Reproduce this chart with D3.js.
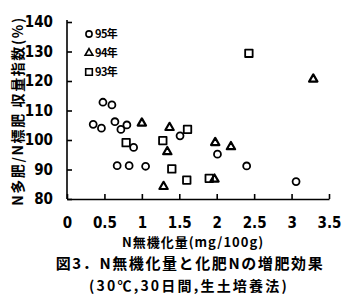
<!DOCTYPE html>
<html>
<head>
<meta charset="utf-8">
<script src="https://cdn.jsdelivr.net/npm/d3@7/dist/d3.min.js"></script>
<style>
  body { margin: 0; background: #fff; }
  svg { display: block; }
  .num { font-family: "Liberation Sans Narrow", "DejaVu Sans Condensed", "Arial Narrow", sans-serif; font-weight: bold; }
  .jp { font-family: "Noto Sans CJK JP", "Noto Sans", sans-serif; font-weight: bold; }
  .axis path, .axis line { stroke: #000; stroke-width: 1.6; }
</style>
</head>
<body>
<div id="chart"></div>
<script>
// 95年 (circles)
var y95x = [0.48, 0.60, 0.35, 0.46, 0.64, 0.72, 0.80, 0.89, 0.67, 0.83, 1.05, 1.51, 2.01, 2.40, 3.06]
var y95y = [112.8, 111.9, 105.3, 104.0, 106.2, 103.6, 105.1, 97.5, 91.3, 91.3, 91.1, 101.4, 95.2, 91.2, 85.9]
// 94年 (triangles)
var y94x = [1.00, 1.37, 1.34, 1.29, 1.98, 2.19, 1.97, 3.29]
var y94y = [105.7, 104.2, 96.0, 84.2, 99.1, 97.7, 86.7, 120.6]
// 93年 (squares)
var y93x = [0.79, 1.28, 1.61, 1.40, 1.60, 1.90, 2.43]
var y93y = [99.1, 99.8, 103.6, 90.2, 86.4, 87.0, 129.4]

var xTicks = [0, 0.5, 1, 1.5, 2, 2.5, 3, 3.5]
var yTicks = [80, 90, 100, 110, 120, 130, 140]
var legendLabels = ["95年", "94年", "93年"]

var W = 358, H = 307

var svg = d3.select("#chart").append("svg")
    .attr("width", W)
    .attr("height", H)

var x = d3.scaleLinear().domain([0, 3.5]).range([67, 329])
var y = d3.scaleLinear().domain([80, 140]).range([199, 22])

var gx = svg.append("g")
    .attr("class", "axis num")
    .attr("transform", "translate(0," + y(80) + ")")
  .call(d3.axisBottom(x).tickValues(xTicks).tickSizeInner(-5).tickSizeOuter(0).tickPadding(18)
    .tickFormat(function(d){ return d == 0 ? "0" : d3.format(".1~f")(d) }))
gx.selectAll("text").attr("font-size", 15).attr("fill", "#000").attr("font-family", null)

var gy = svg.append("g")
    .attr("class", "axis num")
    .attr("transform", "translate(" + x(0) + ",0)")
  .call(d3.axisLeft(y).tickValues(yTicks).tickSizeInner(-5).tickSizeOuter(0).tickPadding(14))
gy.selectAll("text").attr("font-size", 15).attr("fill", "#000").attr("font-family", null)
gy.select(".domain").attr("d", "M0," + y(80) + "V" + (y(140) - 2))

// points
var sym = d3.symbol()

function draw(xs, ys, type, size){
  var pts = xs.map(function(v, i){ return {x: v, y: ys[i]} })
  svg.append("g").selectAll("path")
      .data(pts)
    .enter().append("path")
      .attr("transform", function(d){ return "translate(" + x(d.x) + "," + y(d.y) + ")" })
      .attr("d", sym.type(type).size(size)())
      .attr("fill", "none")
      .attr("stroke", "#000")
      .attr("stroke-width", type == d3.symbolTriangle ? 2.2 : 1.8)
      .attr("stroke-linejoin", "round")
}

draw(y95x, y95y, d3.symbolCircle, 38)
draw(y94x, y94y, d3.symbolTriangle, 30)
draw(y93x, y93y, d3.symbolSquare, 56)

// legend
var legendTypes = [d3.symbolCircle, d3.symbolTriangle, d3.symbolSquare]
var legendSizes = [30, 26, 44]
legendLabels.forEach(function(t, i){
  var ly = 34 + i * 19
  svg.append("path")
    .attr("transform", "translate(89," + ly + ")")
    .attr("d", d3.symbol().type(legendTypes[i]).size(legendSizes[i])())
    .attr("fill", "none")
    .attr("stroke", "#000")
    .attr("stroke-width", 1.6)
  svg.append("text")
    .attr("class", "jp")
    .attr("x", 95)
    .attr("y", ly)
    .attr("dy", "0.35em")
    .attr("font-size", 11)
    .attr("letter-spacing", -0.6)
    .text(t)
})

// titles
svg.append("text")
  .attr("class", "jp")
  .attr("transform", "translate(18,111) rotate(-90)")
  .attr("text-anchor", "middle")
  .attr("dy", "0.35em")
  .attr("font-size", 14)
  .attr("letter-spacing", 1.6)
  .text("N多肥/N標肥 収量指数(%)")

svg.append("text")
  .attr("class", "jp")
  .attr("x", 193)
  .attr("y", 242)
  .attr("dy", "0.35em")
  .attr("text-anchor", "middle")
  .attr("font-size", 13)
  .attr("letter-spacing", 1)
  .text("N無機化量(mg/100g)")

svg.append("text")
  .attr("class", "jp")
  .attr("x", 190)
  .attr("y", 264)
  .attr("dy", "0.35em")
  .attr("text-anchor", "middle")
  .attr("font-size", 15)
  .attr("letter-spacing", 1.6)
  .text("図3．N無機化量と化肥Nの増肥効果")

svg.append("text")
  .attr("class", "jp")
  .attr("x", 189)
  .attr("y", 286)
  .attr("dy", "0.35em")
  .attr("text-anchor", "middle")
  .attr("font-size", 14)
  .attr("letter-spacing", 2.2)
  .text("(30℃,30日間,生土培養法)")
</script>
</body>
</html>
